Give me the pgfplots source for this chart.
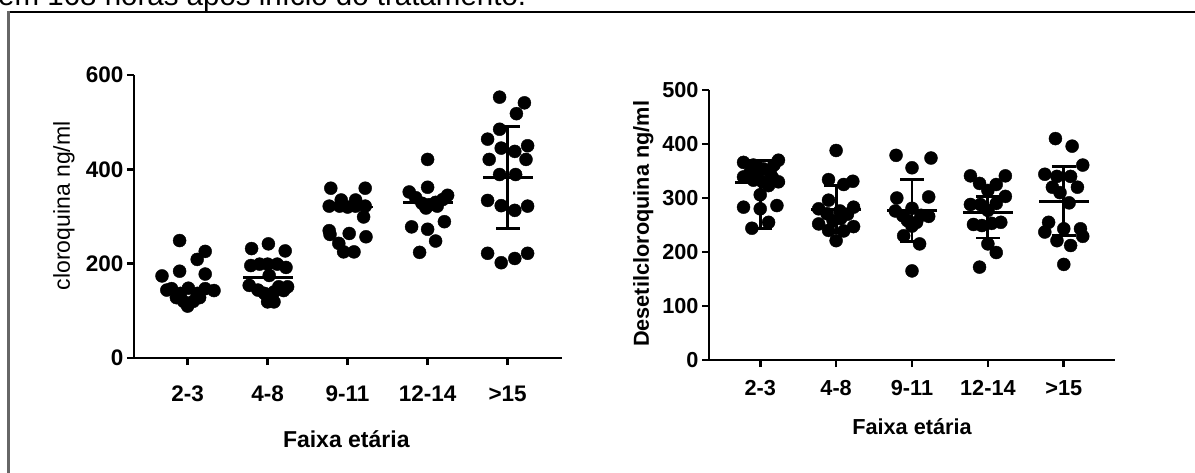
\documentclass[border=0pt]{standalone}
\usepackage{fontspec}
\setmainfont{Liberation Sans}
\usepackage{pgfplots}
\usepackage{pgfplotstable}
\pgfplotsset{compat=1.18}

% cloroquina (ng/ml): group index, horizontal jitter, value
\pgfplotstableread{
g dx v
0 -0.10 249
0 0.22 226
0 0.12 209
0 -0.32 174
0 -0.10 184
0 0.22 178
0 -0.26 144
0 -0.20 147
0 0.01 148
0 0.22 147
0 0.33 143
0 -0.09 137
0 0.12 137
0 -0.05 120
0 0.07 120
0 0.00 110
0 -0.14 128
0 0.15 128
1 -0.20 232
1 0.01 242
1 0.22 227
1 -0.21 196
1 -0.10 199
1 0.00 199
1 0.12 199
1 0.23 192
1 0.02 175
1 -0.23 154
1 -0.12 144
1 0.14 151
1 0.25 151
1 -0.04 137
1 0.08 140
1 0.00 119
1 0.08 119
1 0.20 143
2 -0.21 360
2 0.22 360
2 -0.23 322
2 -0.10 322
2 0.00 320
2 0.10 322
2 0.22 322
2 -0.08 335
2 0.10 335
2 0.20 299
2 -0.23 270
2 -0.22 262
2 0.02 264
2 0.23 257
2 -0.11 243
2 -0.05 225
2 0.08 225
3 0.00 421
3 0.00 362
3 -0.23 352
3 -0.15 340
3 -0.07 328
3 0.02 325
3 0.10 330
3 0.19 336
3 0.25 345
3 -0.02 318
3 0.12 322
3 -0.20 278
3 0.00 273
3 0.21 289
3 0.10 248
3 -0.10 224
4 -0.10 553
4 0.21 541
4 0.11 518
4 -0.10 485
4 -0.25 464
4 0.25 450
4 -0.08 445
4 0.09 438
4 -0.23 421
4 0.23 421
4 -0.10 389
4 0.10 389
4 -0.25 334
4 -0.08 323
4 0.09 313
4 0.25 322
4 -0.25 222
4 -0.08 202
4 0.09 211
4 0.25 222
}\cqdata

% desetilcloroquina (ng/ml)
\pgfplotstableread{
g dx v
0 -0.22 366
0 -0.09 361
0 0.04 354
0 0.18 361
0 0.24 370
0 -0.13 348
0 0.13 348
0 -0.22 339
0 -0.09 333
0 0.03 330
0 0.24 330
0 0.11 323
0 -0.04 340
0 0.16 338
0 0.00 306
0 -0.22 283
0 0.00 280
0 0.22 286
0 -0.11 244
0 0.11 255
1 0.00 388
1 -0.10 334
1 0.10 325
1 0.22 331
1 -0.10 296
1 -0.23 280
1 0.23 283
1 -0.12 271
1 0.05 276
1 0.15 270
1 -0.04 258
1 0.06 262
1 -0.23 252
1 -0.10 240
1 0.10 239
1 0.23 247
1 0.00 221
2 -0.21 379
2 0.25 374
2 0.00 356
2 -0.20 300
2 0.22 302
2 -0.22 276
2 0.00 281
2 0.22 266
2 -0.12 267
2 0.12 268
2 -0.06 258
2 0.06 255
2 0.00 248
2 -0.11 230
2 0.10 215
2 0.00 165
3 -0.23 341
3 0.23 341
3 -0.11 327
3 0.11 325
3 0.00 314
3 0.23 303
3 -0.23 288
3 -0.10 288
3 0.11 290
3 0.00 277
3 -0.19 251
3 -0.08 249
3 0.05 253
3 0.17 255
3 0.00 215
3 0.11 199
3 -0.11 172
4 -0.11 410
4 0.11 396
4 0.25 361
4 -0.25 344
4 -0.09 340
4 0.09 340
4 -0.15 320
4 0.18 320
4 -0.05 310
4 0.07 291
4 -0.20 255
4 -0.25 237
4 0.00 243
4 0.22 243
4 0.25 229
4 -0.09 221
4 0.09 212
4 0.00 177
}\dcqdata

\pgfplotsset{
  prism/.style={
    scale only axis,
    clip=false,
    axis x line=bottom, axis y line=left,
    axis line style={line width=2.6pt, black, -},
    tick align=outside,
    major tick length=7pt,
    tick style={line width=2.6pt, black},
    xtick={0,1,2,3,4},
    xticklabels={2-3,4-8,9-11,12-14,{>15}},
    /pgf/number format/assume math mode=true,
  },
  dots/.style={only marks, mark=*, mark size=6.5pt, mark options={draw=none, fill=black}},
  meanbar/.style={only marks, mark=-, mark size=25pt, mark options={line width=2.8pt, black}},
  sdbar/.style={only marks, mark=none, black,
    error bars/.cd, y dir=both, y explicit, error mark=|,
    error bar style={line width=2.8pt, black},
    error mark options={line width=2.8pt, mark size=12pt, black}},
}

\begin{document}
\begin{tikzpicture}
\useasboundingbox (0pt,0pt) rectangle (1195pt,472pt);
\clip (0pt,0pt) rectangle (1195pt,472pt);

% document text above the frame, cut by the page edge
\node[anchor=base west, inner sep=0pt, font=\fontsize{29.5}{32}\selectfont]
  at (-2pt,466pt) {em 168 horas após início do tratamento.};
\draw[line width=2.7pt] (7.3pt,460pt) -- (1200pt,460pt);
\draw[black!60, line width=2.2pt] (8.4pt,461pt) -- (8.4pt,-5pt);

% left: cloroquina
\begin{axis}[prism,
  at={(134pt,114pt)}, anchor=south west,
  width=428pt, height=283pt,
  xmin=-0.67, xmax=4.68,
  ymin=0, ymax=600, ytick={0,200,400,600},
  tick label style={font=\fontsize{22.5}{24}\selectfont\bfseries},
  xticklabel style={yshift=-17pt},
  xlabel={Faixa etária},
  ylabel={cloroquina ng/ml},
  every axis x label/.style={at={(axis description cs:0.496,-0.288)}, anchor=center,
    font=\fontsize{23}{26}\selectfont\bfseries},
  every axis y label/.style={at={(axis description cs:-0.164,0.538)}, anchor=center, rotate=90,
    font=\fontsize{23}{26}\selectfont},
]
\addplot[dots] table[x expr=\thisrow{g}+\thisrow{dx}, y=v] {\cqdata};
\addplot[meanbar] coordinates {(0,142) (1,171) (2,320) (3,329) (4,383)};
\addplot[sdbar] coordinates {(4,383) +- (0,108)};
\end{axis}

% right: desetilcloroquina
\begin{axis}[prism,
  at={(709pt,112pt)}, anchor=south west,
  width=406pt, height=270pt,
  xmin=-0.675, xmax=4.675,
  ymin=0, ymax=500, ytick={0,100,200,300,400,500},
  tick label style={font=\fontsize{21.7}{24}\selectfont\bfseries},
  xticklabel style={yshift=-10pt},
  xlabel={Faixa etária},
  ylabel={Desetilcloroquina ng/ml},
  every axis x label/.style={at={(axis description cs:0.5,-0.246)}, anchor=center,
    font=\fontsize{21.7}{24}\selectfont\bfseries},
  every axis y label/.style={at={(axis description cs:-0.162,0.504)}, anchor=center, rotate=90,
    font=\fontsize{21.7}{24}\selectfont\bfseries},
]
\addplot[dots] table[x expr=\thisrow{g}+\thisrow{dx}, y=v] {\dcqdata};
\addplot[meanbar] coordinates {(0,328) (1,279) (2,277) (3,273) (4,294)};
\addplot[sdbar] coordinates {
  (0,328) += (0,42) -= (0,84)
  (1,279) += (0,44) -= (0,43)
  (2,277) += (0,57) -= (0,57)
  (3,273) += (0,30) -= (0,47)
  (4,294) += (0,65) -= (0,64)
};
\end{axis}
\end{tikzpicture}
\end{document}
